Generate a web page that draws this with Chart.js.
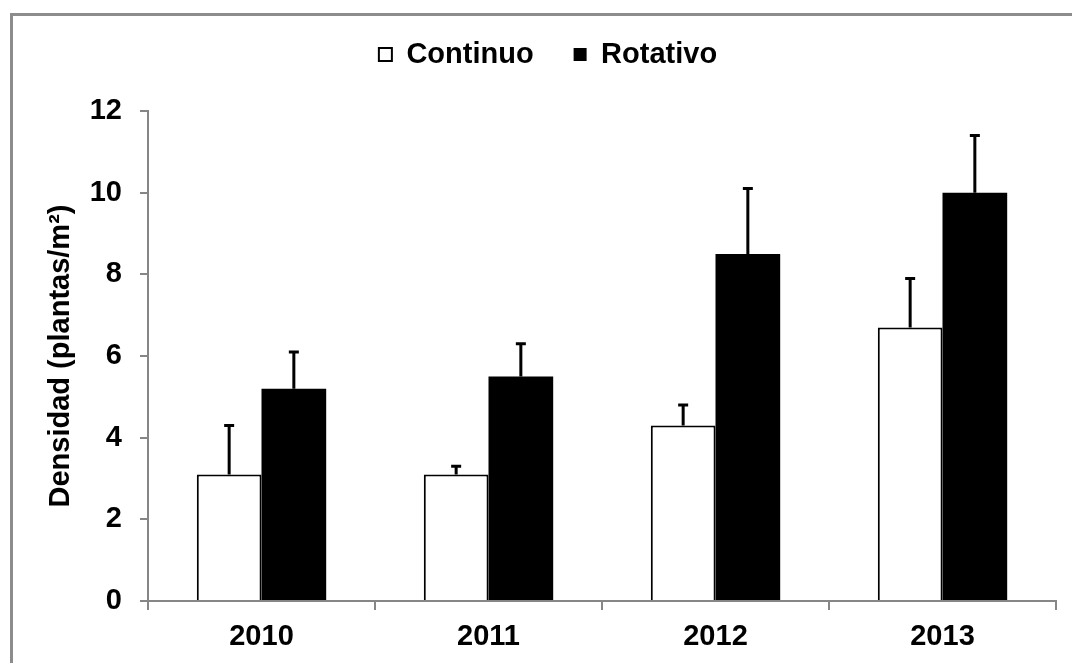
<!DOCTYPE html>
<html>
<head>
<meta charset="utf-8">
<script src="https://cdn.jsdelivr.net/npm/chart.js@4/dist/chart.umd.min.js"></script>
<style>
  body { margin: 0; background: #fff; overflow: hidden; }
  .wrap { position: relative; width: 1072px; height: 663px; overflow: hidden; }
  .frame { position: absolute; left: 10px; top: 13px; width: 2000px; height: 2000px;
           border-left: 3px solid #8c8c8c; border-top: 3px solid #8c8c8c; }
  canvas { position: relative; }
</style>
</head>
<body>
<div class="wrap">
  <div class="frame"></div>
  <canvas id="myChart"></canvas>
</div>
<script>
const years = ["2010", "2011", "2012", "2013"];
const continuo = [3.1, 3.1, 4.3, 6.7];
const continuoErr = [1.2, 0.2, 0.5, 1.2];
const rotativo = [5.2, 5.5, 8.5, 10.0];
const rotativoErr = [0.9, 0.8, 1.6, 1.4];
const yTicks = [0, 2, 4, 6, 8, 10, 12];

const axisGray = "#868686";
const font = { family: "'Liberation Sans', Arial, sans-serif", size: 29, weight: "bold" };

// upper error bars with a cap
const errorBars = {
    id: "errorBars",
    afterDatasetsDraw(chart) {
        const ctx = chart.ctx;
        const yScale = chart.scales.y;
        ctx.save();
        ctx.strokeStyle = "#000";
        ctx.lineWidth = 3;
        chart.data.datasets.forEach((ds, i) => {
            const meta = chart.getDatasetMeta(i);
            meta.data.forEach((bar, j) => {
                const top = yScale.getPixelForValue(ds.data[j] + ds.errors[j]);
                ctx.beginPath();
                ctx.moveTo(bar.x, bar.y);
                ctx.lineTo(bar.x, top);
                ctx.moveTo(bar.x - 5, top);
                ctx.lineTo(bar.x + 5, top);
                ctx.stroke();
            });
        });
        ctx.restore();
    }
};

// leave some room between the legend and the plot
const legendSpace = {
    id: "legendSpace",
    beforeLayout(chart) {
        const lg = chart.legend;
        if (lg && !lg._spaced) {
            const fit = lg.fit.bind(lg);
            lg.fit = function () { fit(); this.height += 32; };
            lg._spaced = true;
        }
    }
};

new Chart(document.getElementById("myChart").getContext("2d"), {
    type: "bar",
    data: {
        labels: years,
        datasets: [
            {
                label: "Continuo",
                data: continuo,
                errors: continuoErr,
                backgroundColor: "#ffffff",
                borderColor: "#000000",
                borderWidth: 2,
                barPercentage: 1,
                categoryPercentage: 0.57
            },
            {
                label: "Rotativo",
                data: rotativo,
                errors: rotativoErr,
                backgroundColor: "#000000",
                borderColor: "#000000",
                borderWidth: 0,
                barPercentage: 1,
                categoryPercentage: 0.57
            }
        ]
    },
    options: {
        responsive: true,
        maintainAspectRatio: false,
        animation: false,
        layout: { padding: { top: 0, left: 40, right: 16, bottom: 0 } },
        plugins: {
            tooltip: { enabled: false },
            legend: {
                position: "top",
                labels: {
                    color: "#000",
                    font: font,
                    boxWidth: 13,
                    boxHeight: 13,
                    padding: 40
                }
            }
        },
        scales: {
            x: {
                grid: { drawOnChartArea: false, tickLength: 9, color: axisGray, lineWidth: 2 },
                border: { color: axisGray, width: 2 },
                ticks: { color: "#000", font: font, padding: 10 },
                afterFit(scale) { scale.height = 62; }
            },
            y: {
                min: 0,
                max: 12,
                afterBuildTicks(scale) { scale.ticks = yTicks.map(v => ({ value: v })); },
                grid: { drawOnChartArea: false, tickLength: 8, color: axisGray, lineWidth: 2 },
                border: { color: axisGray, width: 2 },
                ticks: { color: "#000", font: font, padding: 18 },
                title: {
                    display: true,
                    text: "Densidad (plantas/m²)",
                    color: "#000",
                    font: font,
                    padding: { top: 4, bottom: 4 }
                },
                afterFit(scale) { scale.width = 108; }
            }
        }
    },
    plugins: [errorBars, legendSpace]
});
</script>
</body>
</html>
